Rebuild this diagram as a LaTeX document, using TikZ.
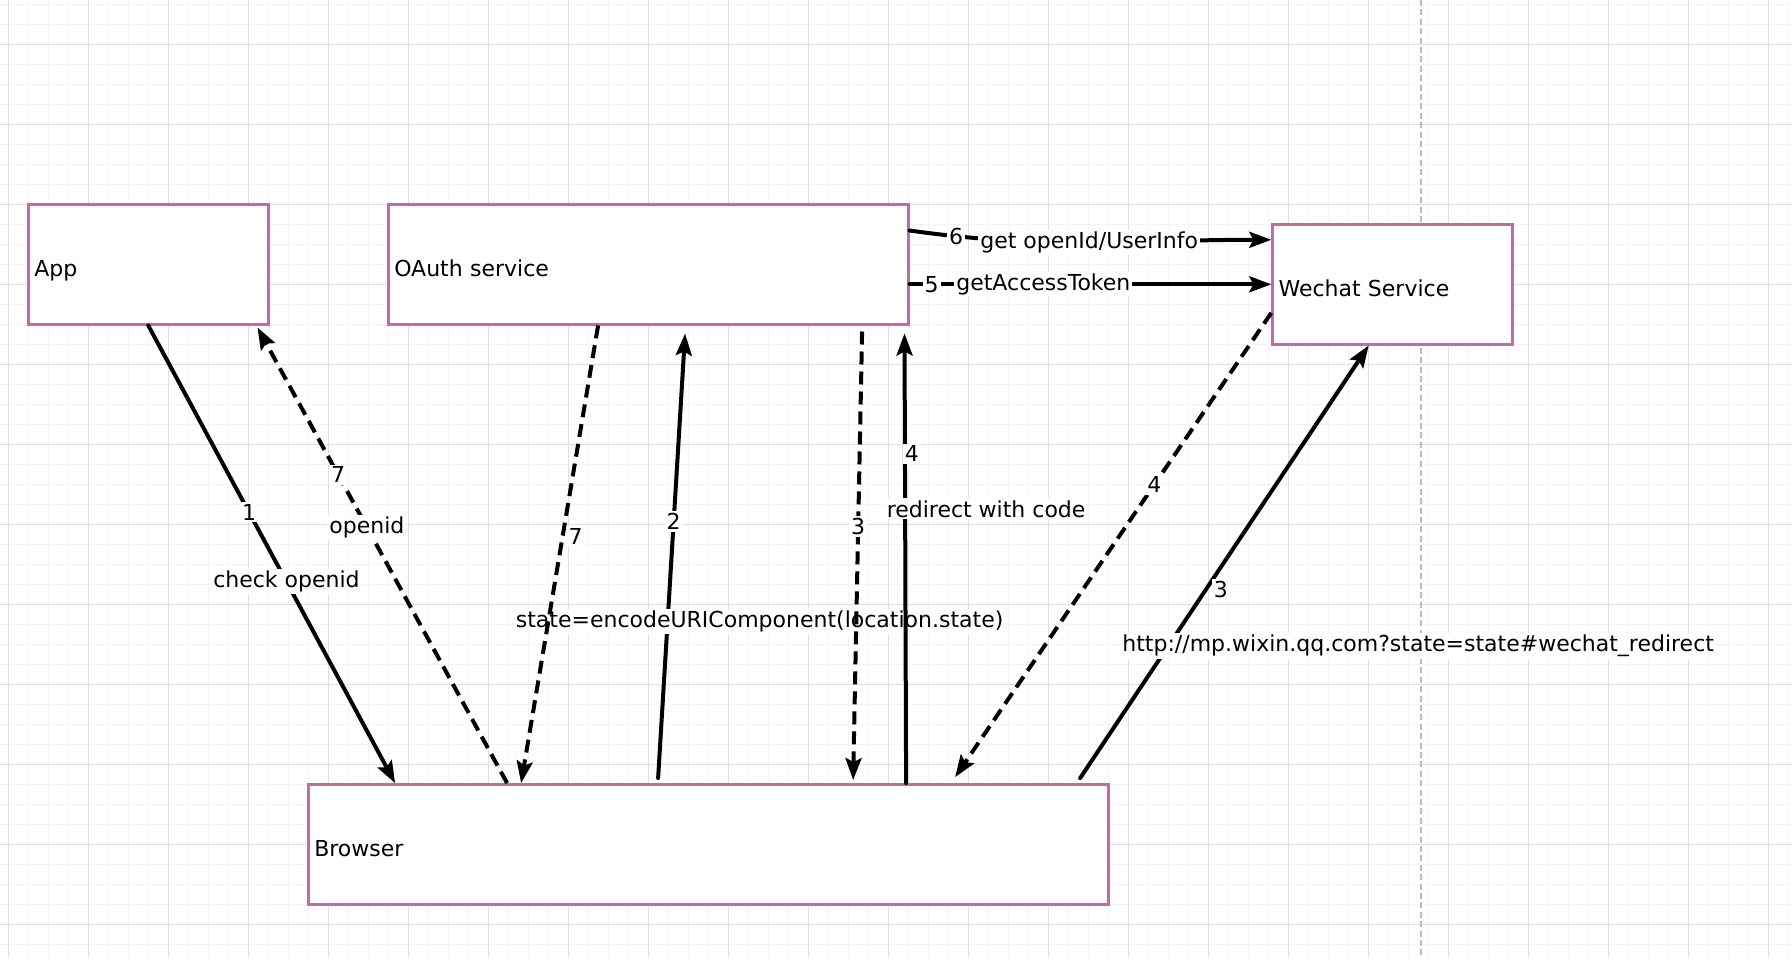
\documentclass[tikz,border=0pt]{standalone}
\usepackage{fontspec}
\setmainfont{DejaVu Sans}
\usetikzlibrary{arrows.meta,calc}
\definecolor{boxc}{HTML}{B5739D}
\definecolor{gmaj}{HTML}{DFDFDF}
\definecolor{gmin}{HTML}{F4F4F4}
\definecolor{gdash}{HTML}{BBBBBB}
\begin{document}
\begin{tikzpicture}[x=0.5pt,y=-0.5pt,
  every node/.style={font=\fontsize{11pt}{13pt}\selectfont},
  box/.style={draw=boxc, line width=1.2pt, fill=white, minimum height=60pt, inner xsep=3pt, align=left, text height=15pt, text depth=2.5pt},
  conn/.style={line width=2pt, -{Stealth[length=11pt,width=8pt,inset=2pt]}, line join=round, line cap=round},
  dconn/.style={conn, line cap=butt, dash pattern=on 6.5pt off 3.5pt},
  lbl/.style={fill=white, inner sep=1pt},
  gminor/.style={gmin, line width=0.5pt},
  gmajor/.style={gmaj, line width=0.5pt}]
\useasboundingbox (0,0) rectangle (1792,958);
\fill[white] (0,0) rectangle (1792,958);
% grid
\foreach \i in {0,...,89} {\draw[gminor] ({8.3+20*\i},0) -- ({8.3+20*\i},958);}
\foreach \j in {0,...,47} {\draw[gminor] (0,{4.3+20*\j}) -- (1792,{4.3+20*\j});}
\foreach \i in {0,...,22} {\draw[gmajor] ({8.3+80*\i},0) -- ({8.3+80*\i},958);}
\foreach \j in {0,...,11} {\draw[gmajor] (0,{44.3+80*\j}) -- (1792,{44.3+80*\j});}
\draw[gdash, line width=1pt, dash pattern=on 3pt off 1.7pt] (1421,0) -- (1421,958);
% boxes
\node[box, text width=114pt] (App) at (148.3,264.3) {App};
\node[box, text width=254pt] (OAuth) at (648.3,264.3) {OAuth service};
\node[box, text width=114pt] (Wechat) at (1392.5,284.3) {Wechat Service};
\node[box, text width=394pt] (Browser) at (708.3,844.3) {Browser};
% connectors
\draw[conn] (App.south) -- ($(Browser.north west)+(88,0)$)
  node[lbl,pos=0.408]{1} node[lbl,pos=0.56]{check openid};
\draw[dconn] ($(Browser.north west)+(200,0)$) -- ($(App.south east)+(-12,2)$)
  node[lbl,pos=0.677]{7} node[lbl,pos=0.5615]{openid};
\draw[conn] ($(Browser.north west)+(351,-5)$) -- ($(OAuth.south west)+(298,8)$)
  node[lbl,pos=0.577]{2} node[lbl,pos=0.352,xshift=46pt]{state=encodeURIComponent(location.state)};
\draw[dconn] ($(OAuth.south west)+(211,0)$) -- ($(Browser.north west)+(214,0)$)
  node[lbl,pos=0.46,anchor=west,xshift=1pt]{7};
\draw[dconn] ($(OAuth.south west)+(475,6)$) -- ($(Browser.north west)+(546,-3)$)
  node[lbl,pos=0.435]{3};
\draw[conn] ($(Browser.north west)+(599,0)$) -- ($(OAuth.south east)+(-5,8)$)
  node[lbl,pos=0.733,xshift=3.5pt]{4} node[lbl,pos=0.61,xshift=40.5pt]{redirect with code};
\draw[dconn] ($(Wechat.south west)+(0,-32.6)$) -- ($(Browser.north west)+(648,-6)$)
  node[lbl,pos=0.37]{4};
\draw[conn] ($(Browser.north west)+(773,-5)$) -- ($(Wechat.south west)+(97.4,0)$)
  node[lbl,pos=0.436,xshift=7.5pt]{3} node[lbl,pos=0.305,xshift=125pt]{http://mp.wixin.qq.com?state=state\#wechat\_redirect};
\draw[conn] ($(OAuth.north east)+(0,27.4)$) to[out=-8,in=180]
  node[lbl,pos=0.116]{6} node[lbl,pos=0.498]{get openId/UserInfo} ($(Wechat.north west)+(0,16.7)$);
\draw[conn] ($(OAuth.east)+(0,20)$) -- (Wechat.west)
  node[lbl,pos=0.061]{5} node[lbl,pos=0.37]{getAccessToken};
\end{tikzpicture}
\end{document}
